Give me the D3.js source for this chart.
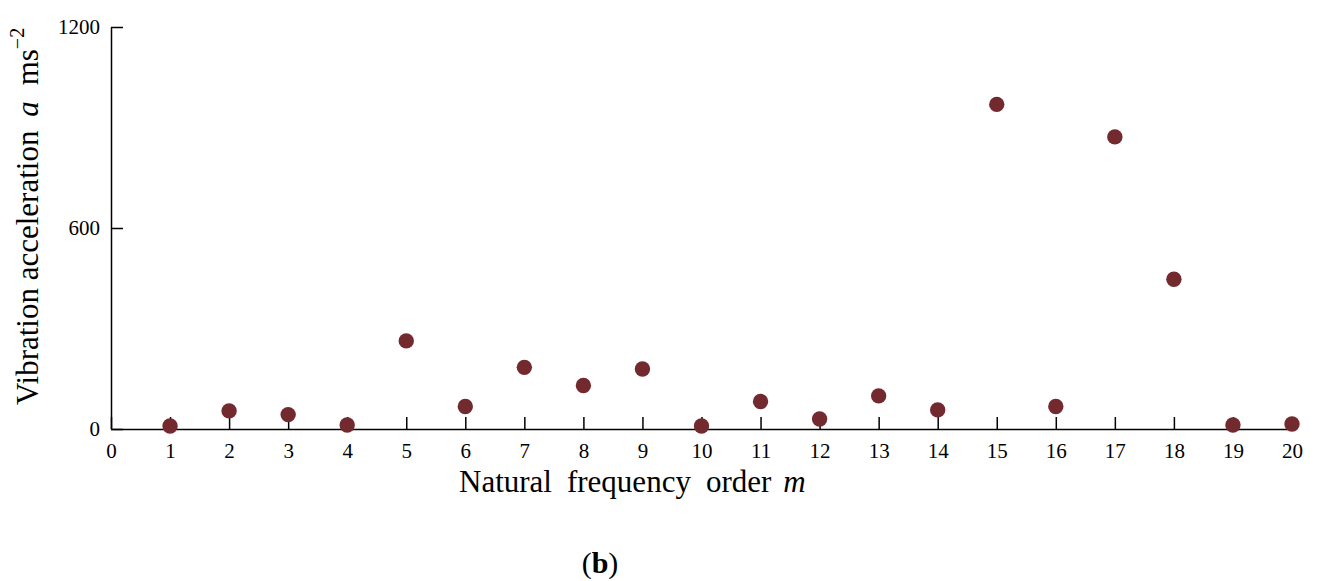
<!DOCTYPE html>
<html>
<head>
<meta charset="utf-8">
<script src="https://cdn.jsdelivr.net/npm/d3@7"></script>
<style>
  html, body { margin: 0; padding: 0; background: #fff; }
  svg { display: block; }
  text { font-family: "Liberation Serif", "Times New Roman", serif; fill: #000; }
</style>
</head>
<body>
<svg id="chart" width="1321" height="581"></svg>
<script>
const orders = [1,2,3,4,5,6,7,8,9,10,11,12,13,14,15,16,17,18,19,20];
const accel  = [9,54,43,12,263,67,184,130,179,9,82,30,99,57,969,67,872,447,12,15];
const xTicks = [0,1,2,3,4,5,6,7,8,9,10,11,12,13,14,15,16,17,18,19,20];
const yTicks = [0,600,1200];

const svg = d3.select("#chart");
const x = d3.scaleLinear().domain([0,20]).range([111,1292]);
const y = d3.scaleLinear().domain([0,1200]).range([429,27]);

const xAxis = svg.append("g").attr("transform","translate(0,429)")
  .call(d3.axisBottom(x).tickValues(xTicks).tickFormat(d3.format("d"))
    .tickSize(-12).tickSizeOuter(0).tickPadding(14));
const yAxis = svg.append("g").attr("transform","translate(111,0)")
  .call(d3.axisLeft(y).tickValues(yTicks).tickFormat(d3.format("d"))
    .tickSize(-12).tickSizeOuter(0).tickPadding(11));

[xAxis, yAxis].forEach(g => {
  g.selectAll(".domain").attr("stroke","#000").attr("stroke-width",1.5);
  g.selectAll(".tick line").attr("stroke","#000").attr("stroke-width",1.5);
  g.selectAll(".tick text").attr("font-family","Liberation Serif, serif").attr("font-size",21).attr("fill","#000");
});

svg.append("g").selectAll("circle").data(orders).join("circle")
  .attr("cx", (d) => x(d))
  .attr("cy", (d,i) => y(accel[i]))
  .attr("r", 7.7)
  .attr("fill", "#732a2e");

// x axis title
const xt = svg.append("text").attr("x", 459).attr("y", 492)
  .attr("text-anchor","start").attr("font-size",31);
xt.append("tspan").text("Natural");
xt.append("tspan").attr("dx",15).text("frequency");
xt.append("tspan").attr("dx",15).text("order");
xt.append("tspan").attr("dx",12).attr("font-style","italic").text("m");

// y axis title
const yt = svg.append("text")
  .attr("transform","translate(38,405) rotate(-90)")
  .attr("text-anchor","start").attr("font-size",31);
yt.append("tspan").text("Vibration acceleration ");
yt.append("tspan").attr("dx",6).attr("font-style","italic").text("a");
yt.append("tspan").attr("dx",16).text("ms");
yt.append("tspan").attr("dy",-14).attr("font-size",20).text("−2");

// panel label
const pl = svg.append("text").attr("x", 600).attr("y", 573)
  .attr("text-anchor","middle").attr("font-size",30);
pl.append("tspan").text("(");
pl.append("tspan").attr("font-weight","bold").text("b");
pl.append("tspan").text(")");
</script>
</body>
</html>
